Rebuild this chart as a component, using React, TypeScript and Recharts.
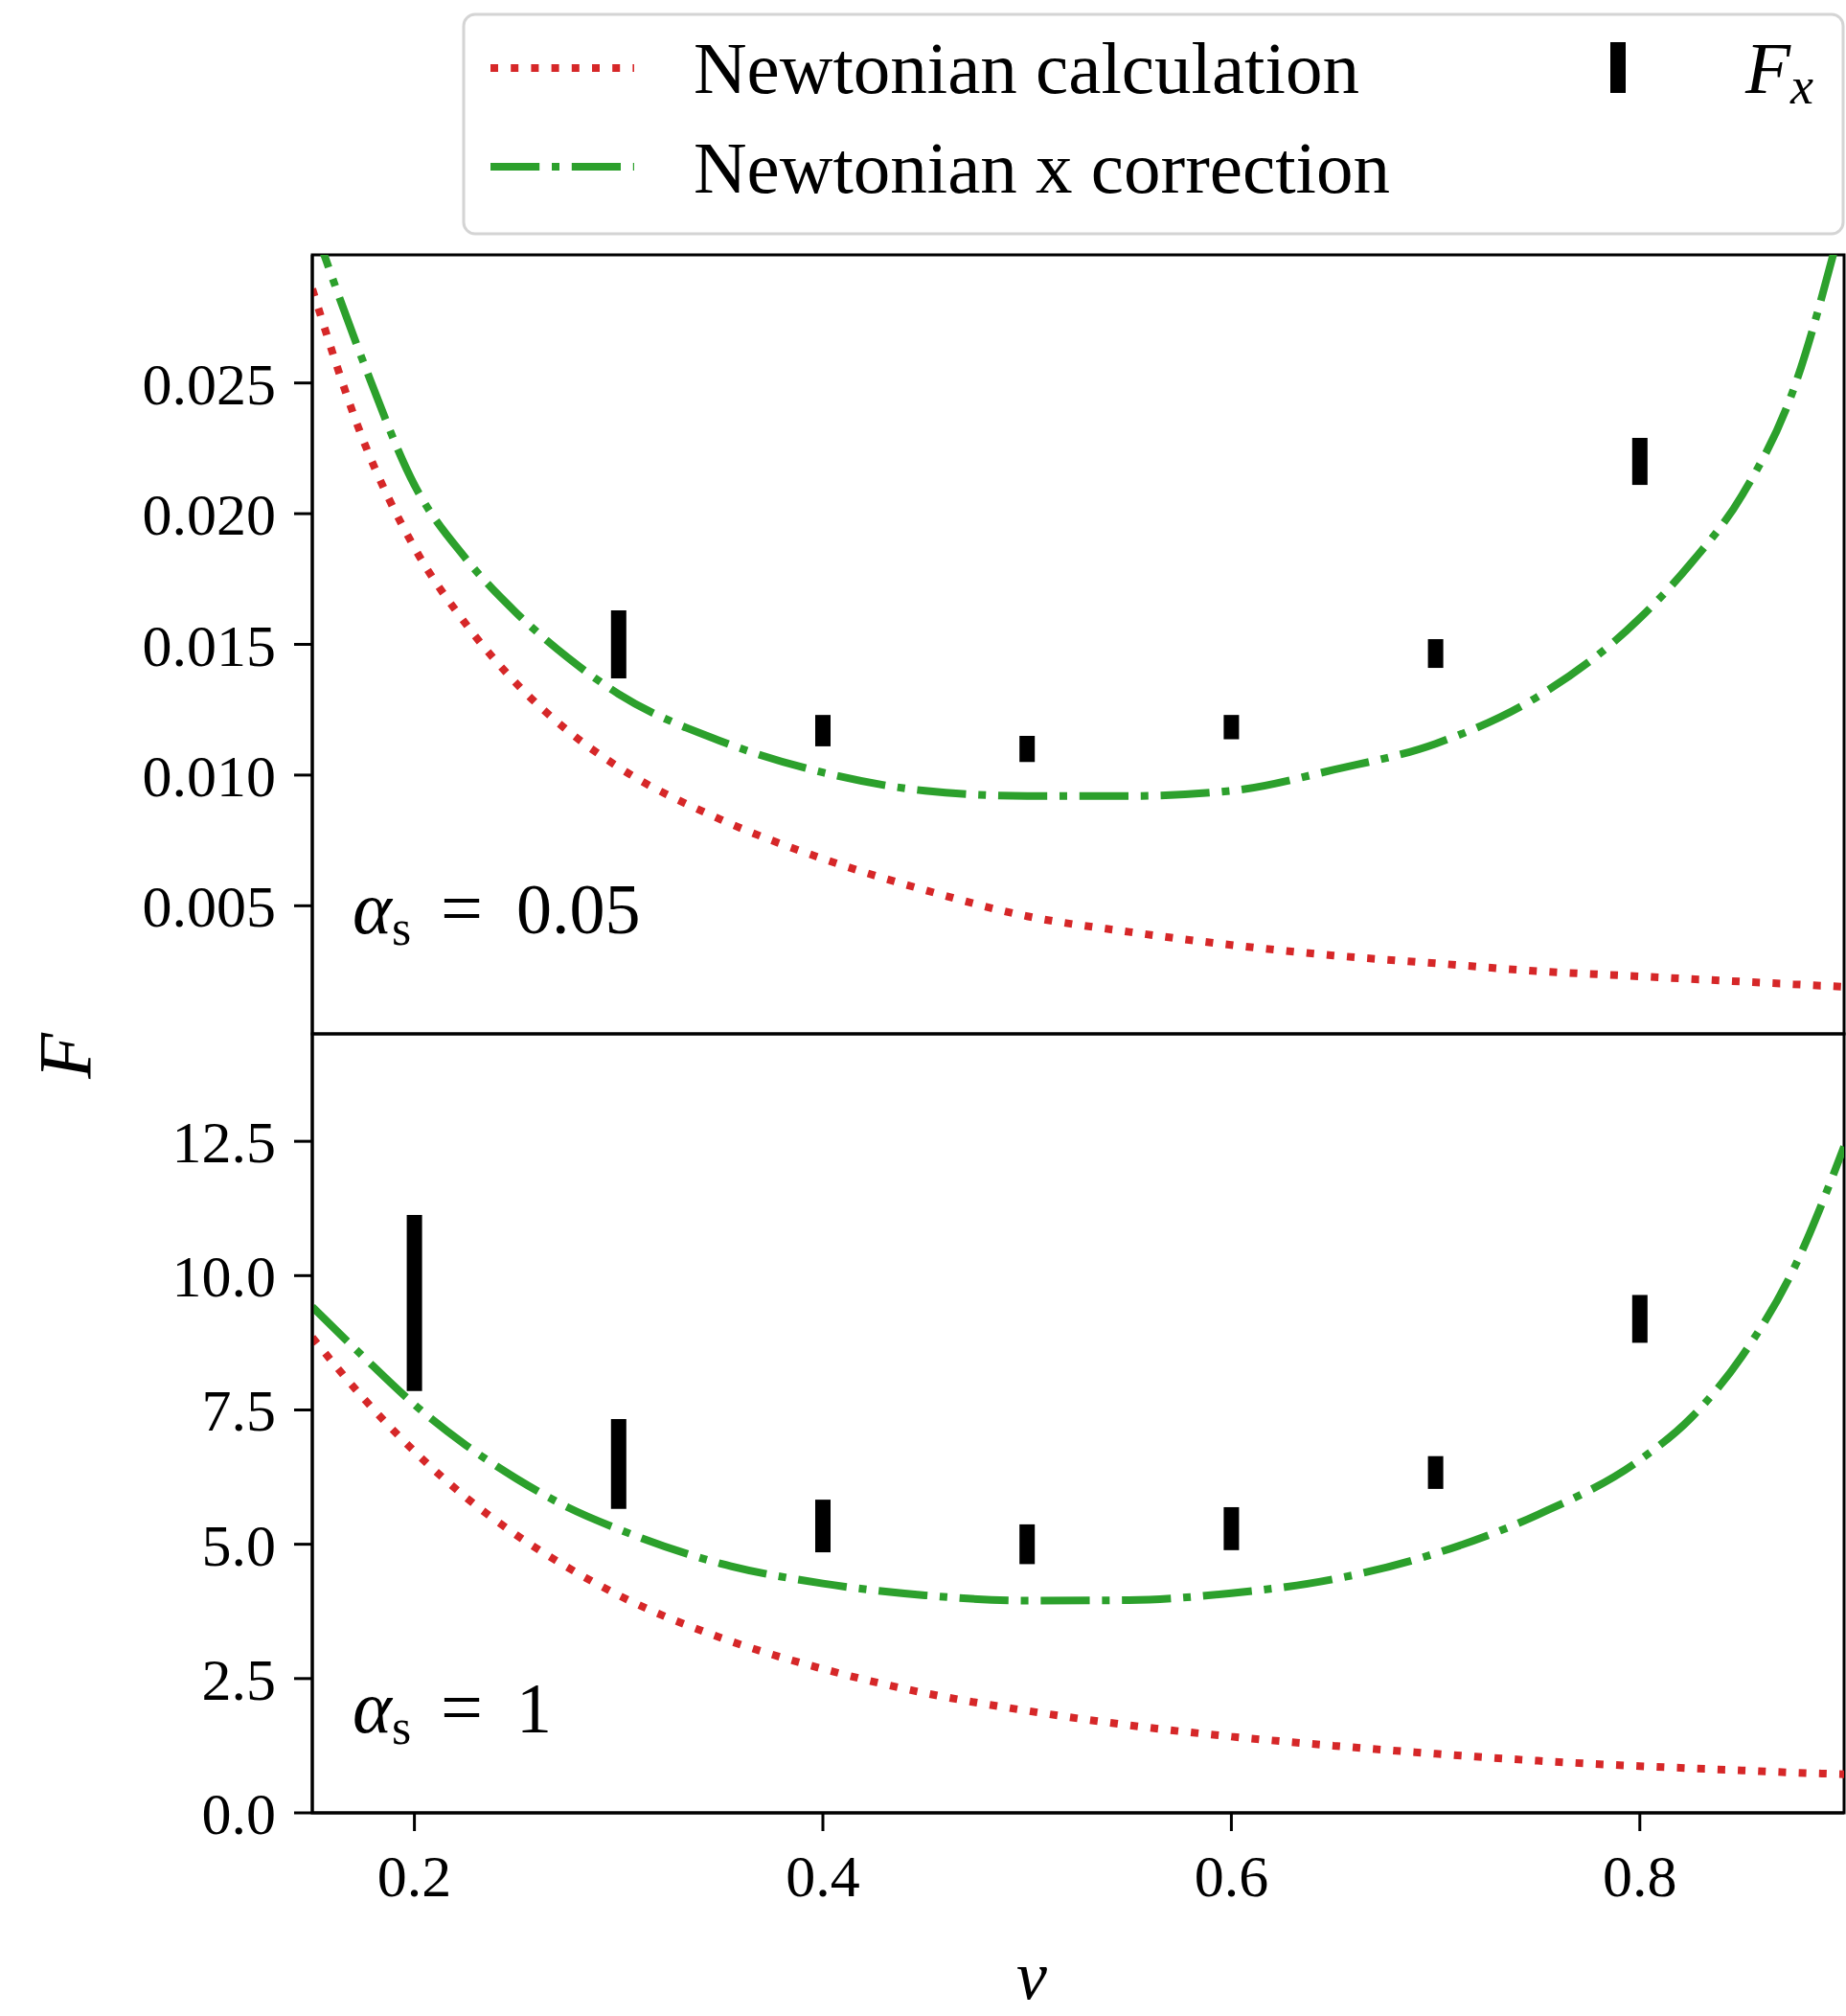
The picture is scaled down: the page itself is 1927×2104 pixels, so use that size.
import { ComposedChart, Line, Scatter, ErrorBar, XAxis, YAxis, ReferenceArea } from 'recharts'

// ============================================
// Data
// ============================================

// shared sampling of the two model curves
const vGrid = [0.15, 0.175, 0.2, 0.225, 0.25, 0.275, 0.3, 0.35, 0.4, 0.45, 0.5, 0.55, 0.6, 0.65, 0.7, 0.75, 0.8, 0.825, 0.85, 0.875, 0.9]

// alpha_s = 0.05
const topNewtonian = [0.0286, 0.0228, 0.0187, 0.0158, 0.0135, 0.0117, 0.0103, 0.0083, 0.0068, 0.0056, 0.0046, 0.004, 0.0035, 0.0031, 0.0028, 0.0025, 0.0023, 0.0022, 0.0021, 0.002, 0.0019]
const topCorrected = [0.0312, 0.0258, 0.0211, 0.0183, 0.0162, 0.0145, 0.0131, 0.0113, 0.0101, 0.0094, 0.0092, 0.0092, 0.0094, 0.0102, 0.0112, 0.013, 0.016, 0.0181, 0.0207, 0.0247, 0.0315]
const topFxV = [0.3, 0.4, 0.5, 0.6, 0.7, 0.8]
const topFxLow = [0.0137, 0.0111, 0.0105, 0.01137, 0.0141, 0.0211]
const topFxHigh = [0.0163, 0.0123, 0.0115, 0.0123, 0.0152, 0.0229]

// alpha_s = 1
const bottomNewtonian = [8.85, 7.72, 6.73, 5.88, 5.17, 4.57, 4.05, 3.26, 2.68, 2.23, 1.9, 1.63, 1.42, 1.25, 1.1, 0.97, 0.87, 0.83, 0.79, 0.75, 0.72]
const bottomCorrected = [9.42, 8.49, 7.6, 6.85, 6.22, 5.69, 5.28, 4.64, 4.27, 4.05, 3.95, 3.96, 4.09, 4.35, 4.83, 5.55, 6.57, 7.35, 8.5, 10.1, 12.4]
const bottomFxV = [0.2, 0.3, 0.4, 0.5, 0.6, 0.7, 0.8]
const bottomFxLow = [7.85, 5.66, 4.85, 4.63, 4.89, 6.03, 8.75]
const bottomFxHigh = [11.13, 7.33, 5.83, 5.37, 5.69, 6.64, 9.64]

const topTicks = [0.005, 0.01, 0.015, 0.02, 0.025]
const bottomTicks = [0, 2.5, 5, 7.5, 10, 12.5]
const xTicks = [0.2, 0.4, 0.6, 0.8]

// ============================================
// Helpers
// ============================================

const SERIF = '"Liberation Serif", "Times New Roman", serif'
const RED = '#d62728'
const GREEN = '#2ca02c'
const LW = 8
const DOTTED = `${LW} ${LW * 1.65}`
const DASHDOT = `${LW * 6.4} ${LW * 1.6} ${LW} ${LW * 1.6}`

function curve(values: number[]) {
  return vGrid.map((v, i) => ({ v, F: values[i] }))
}

function errorRows(vs: number[], low: number[], high: number[]) {
  return vs.map((v, i) => {
    const mid = (low[i] + high[i]) / 2
    return { v, F: mid, err: [mid - low[i], high[i] - mid] }
  })
}

const tickStyle = { fontSize: 62, fontFamily: SERIF, fill: '#000' }
const axisStroke = { stroke: '#000', strokeWidth: 3 }

interface PanelProps {
  newtonian: number[]
  corrected: number[]
  fx: { v: number; F: number; err: number[] }[]
  yDomain: [number, number]
  yTicks: number[]
  digits: number
  showX: boolean
  top: number
  height: number
  margin: { top: number; right: number; bottom: number; left: number }
}

function Panel({ newtonian, corrected, fx, yDomain, yTicks, digits, showX, top, height, margin }: PanelProps) {
  return (
    <div style={{ position: 'absolute', left: 0, top }}>
      <ComposedChart width={1927} height={height} margin={margin}>
        <XAxis
          type="number"
          dataKey="v"
          domain={[0.15, 0.9]}
          allowDataOverflow
          hide={!showX}
          ticks={xTicks}
          interval={0}
          tickFormatter={(x: number) => x.toFixed(1)}
          tick={tickStyle}
          axisLine={axisStroke}
          tickLine={axisStroke}
          tickSize={19}
          tickMargin={24}
          height={120}
        />
        <YAxis
          type="number"
          domain={yDomain}
          allowDataOverflow
          ticks={yTicks}
          interval={0}
          tickFormatter={(y: number) => y.toFixed(digits)}
          tick={tickStyle}
          axisLine={axisStroke}
          tickLine={axisStroke}
          tickSize={19}
          tickMargin={19}
          width={326}
        />
        <ReferenceArea
          x1={0.15}
          x2={0.9}
          y1={yDomain[0]}
          y2={yDomain[1]}
          fill="none"
          fillOpacity={0}
          stroke="#000"
          strokeWidth={3}
        />
        <Line
          data={curve(newtonian)}
          dataKey="F"
          type="monotone"
          stroke={RED}
          strokeWidth={LW}
          strokeDasharray={DOTTED}
          dot={false}
          activeDot={false}
          isAnimationActive={false}
        />
        <Line
          data={curve(corrected)}
          dataKey="F"
          type="monotone"
          stroke={GREEN}
          strokeWidth={LW}
          strokeDasharray={DASHDOT}
          dot={false}
          activeDot={false}
          isAnimationActive={false}
        />
        <Scatter data={fx} dataKey="F" shape={() => <g />} isAnimationActive={false}>
          <ErrorBar dataKey="err" direction="y" width={0} stroke="#000" strokeWidth={16} isAnimationActive={false} />
        </Scatter>
      </ComposedChart>
    </div>
  )
}

// ============================================
// Main Component
// ============================================

export default function App() {
  return (
    <div style={{ position: 'absolute', left: 0, top: 0, width: 1927, height: 2104, background: '#fff', overflow: 'hidden' }}>
      <Panel
        newtonian={topNewtonian}
        corrected={topCorrected}
        fx={errorRows(topFxV, topFxLow, topFxHigh)}
        yDomain={[0.0001, 0.0299]}
        yTicks={topTicks}
        digits={3}
        showX={false}
        top={0}
        height={1100}
        margin={{ top: 266, right: 2, bottom: 21, left: 0 }}
      />
      <Panel
        newtonian={bottomNewtonian}
        corrected={bottomCorrected}
        fx={errorRows(bottomFxV, bottomFxLow, bottomFxHigh)}
        yDomain={[0, 14.5]}
        yTicks={bottomTicks}
        digits={1}
        showX
        top={1000}
        height={1104}
        margin={{ top: 79, right: 2, bottom: 92, left: 0 }}
      />

      {/* legend, labels and panel annotations */}
      <svg width={1927} height={2104} style={{ position: 'absolute', left: 0, top: 0, pointerEvents: 'none' }}>
        <rect x={484} y={15} width={1440} height={229} rx={12} fill="#fff" stroke="#d4d4d4" strokeWidth={3} />
        <line x1={512} y1={71} x2={662} y2={71} stroke={RED} strokeWidth={LW} strokeDasharray={DOTTED} />
        <text x={724} y={97} fontFamily={SERIF} fontSize={77}>Newtonian calculation</text>
        <line x1={512} y1={174} x2={662} y2={174} stroke={GREEN} strokeWidth={LW} strokeDasharray={DASHDOT} />
        <text x={724} y={201} fontFamily={SERIF} fontSize={77}>Newtonian x correction</text>
        <line x1={1689} y1={44} x2={1689} y2={97} stroke="#000" strokeWidth={16} />
        <text x={1822} y={97} fontFamily={SERIF} fontSize={77}>
          <tspan fontStyle="italic">F</tspan>
          <tspan fontStyle="italic" fontSize={54} dy={11}>x</tspan>
        </text>

        <text x={368} y={974} fontFamily={SERIF} fontSize={78}>
          <tspan fontStyle="italic">α</tspan>
          <tspan fontSize={52} dy={12}>s</tspan>
          <tspan x={460} dy={-12}>=</tspan>
          <tspan x={539} fontSize={74}>0.05</tspan>
        </text>
        <text x={368} y={1808} fontFamily={SERIF} fontSize={78}>
          <tspan fontStyle="italic">α</tspan>
          <tspan fontSize={52} dy={12}>s</tspan>
          <tspan x={460} dy={-12}>=</tspan>
          <tspan x={539} fontSize={74}>1</tspan>
        </text>

        <text
          x={94}
          y={1102}
          transform="rotate(-90 94 1102)"
          textAnchor="middle"
          fontFamily={SERIF}
          fontStyle="italic"
          fontSize={78}
        >
          F
        </text>
        <text x={1077} y={2086} textAnchor="middle" fontFamily={SERIF} fontStyle="italic" fontSize={72}>
          v
        </text>
      </svg>
    </div>
  )
}
